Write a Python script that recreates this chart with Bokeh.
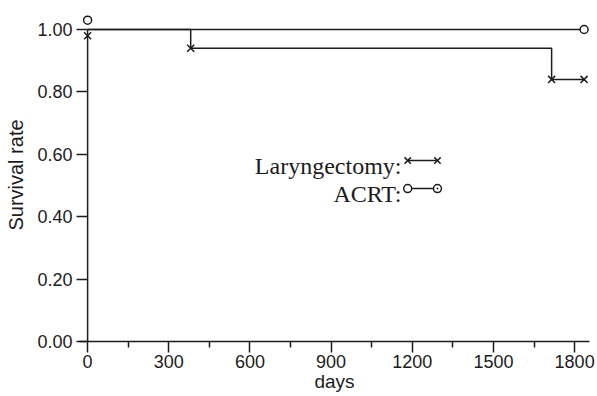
from bokeh.plotting import figure
from bokeh.models import Range1d, FixedTicker, PrintfTickFormatter, Label
from bokeh.embed import file_html
from bokeh.resources import INLINE

# ---- data ----
lar_days = [0, 381, 1715, 1835]
lar_surv = [1.00, 0.94, 0.84, 0.84]
lar_mark_days = [0, 381, 1715, 1835]
lar_mark_surv = [0.98, 0.94, 0.84, 0.84]

acrt_days = [0, 1835]
acrt_surv = [1.00, 1.00]
acrt_mark_days = [0, 1835]
acrt_mark_surv = [1.03, 1.00]

x_ticks = [0, 300, 600, 900, 1200, 1500, 1800]
x_minor_ticks = [150, 450, 750, 1050, 1350, 1650]
y_ticks = [0.0, 0.2, 0.4, 0.6, 0.8, 1.0]

series_names = ["Laryngectomy:", "ACRT:"]
x_title = "days"
y_title = "Survival rate"

INK = "#1c1c1c"
SANS = "Liberation Sans"
SERIF = "Liberation Serif"

p = figure(width=597, height=396, output_backend="svg", toolbar_location=None,
           x_range=Range1d(-30, 1855), y_range=Range1d(0, 1.0673),
           min_border_left=79, min_border_right=8, min_border_top=8, min_border_bottom=55)
p.outline_line_color = None
p.xgrid.visible = False
p.ygrid.visible = False
p.background_fill_color = "white"
p.border_fill_color = "white"

# x axis
xa = p.xaxis[0]
xa.ticker = FixedTicker(ticks=x_ticks, minor_ticks=x_minor_ticks)
xa.axis_label = x_title
xa.axis_line_color = INK
xa.axis_line_width = 1.5
xa.major_tick_line_color = INK
xa.major_tick_line_width = 1.5
xa.major_tick_in = 0
xa.major_tick_out = 11
xa.minor_tick_line_color = INK
xa.minor_tick_line_width = 1.5
xa.minor_tick_in = 0
xa.minor_tick_out = 6
xa.major_label_standoff = 2
xa.major_label_text_font = SANS
xa.major_label_text_font_size = "18px"
xa.major_label_text_color = INK
xa.axis_label_text_font = SANS
xa.axis_label_text_font_size = "19px"
xa.axis_label_text_font_style = "normal"
xa.axis_label_text_color = INK
xa.axis_label_standoff = 0

# y axis (axis line drawn at x = 0 below)
ya = p.yaxis[0]
ya.ticker = FixedTicker(ticks=y_ticks, minor_ticks=[])
ya.formatter = PrintfTickFormatter(format="%.2f")
ya.axis_label = y_title
ya.axis_line_color = None
ya.major_tick_line_color = INK
ya.major_tick_line_width = 1.5
ya.major_tick_in = 8
ya.major_tick_out = 3
ya.minor_tick_line_color = None
ya.major_label_standoff = 4
ya.major_label_text_font = SANS
ya.major_label_text_font_size = "18px"
ya.major_label_text_color = INK
ya.axis_label_text_font = SANS
ya.axis_label_text_font_size = "20px"
ya.axis_label_text_font_style = "normal"
ya.axis_label_text_color = INK
ya.axis_label_standoff = 7

# vertical axis line at day 0
p.segment(x0=[x_ticks[0]], y0=[y_ticks[0]], x1=[x_ticks[0]], y1=[y_ticks[-1]],
          line_color=INK, line_width=1.5)

# survival curves
p.step(lar_days, lar_surv, mode="after", line_color=INK, line_width=1.5)
p.step(acrt_days, acrt_surv, mode="after", line_color=INK, line_width=1.5)
p.scatter(lar_mark_days, lar_mark_surv, marker="x", size=10, line_color=INK, line_width=1.5)
p.scatter(acrt_mark_days, acrt_mark_surv, marker="circle", size=8, line_color=INK,
          line_width=1.5, fill_color="white")

# legend (text followed by sample)
leg_x = 1160
leg_y_text = [0.564, 0.474]
leg_y_mark = [0.580, 0.490]
sx = [1183, 1293]
for name, yt in zip(series_names, leg_y_text):
    p.add_layout(Label(x=leg_x, y=yt, text=name, text_align="right", text_baseline="alphabetic",
                       text_font=SERIF, text_font_size="24px", text_color=INK))
p.line(sx, [leg_y_mark[0]] * 2, line_color=INK, line_width=1.5)
p.scatter(sx, [leg_y_mark[0]] * 2, marker="x", size=9, line_color=INK, line_width=1.5)
p.line(sx, [leg_y_mark[1]] * 2, line_color=INK, line_width=1.5)
p.scatter(sx[:1], [leg_y_mark[1]], marker="circle", size=8, line_color=INK, line_width=1.5,
          fill_color="white")
p.scatter(sx[1:], [leg_y_mark[1]], marker="circle_dot", size=8, line_color=INK, line_width=1.5,
          fill_color="white")

open("out.html", "w").write(file_html(p, INLINE))
